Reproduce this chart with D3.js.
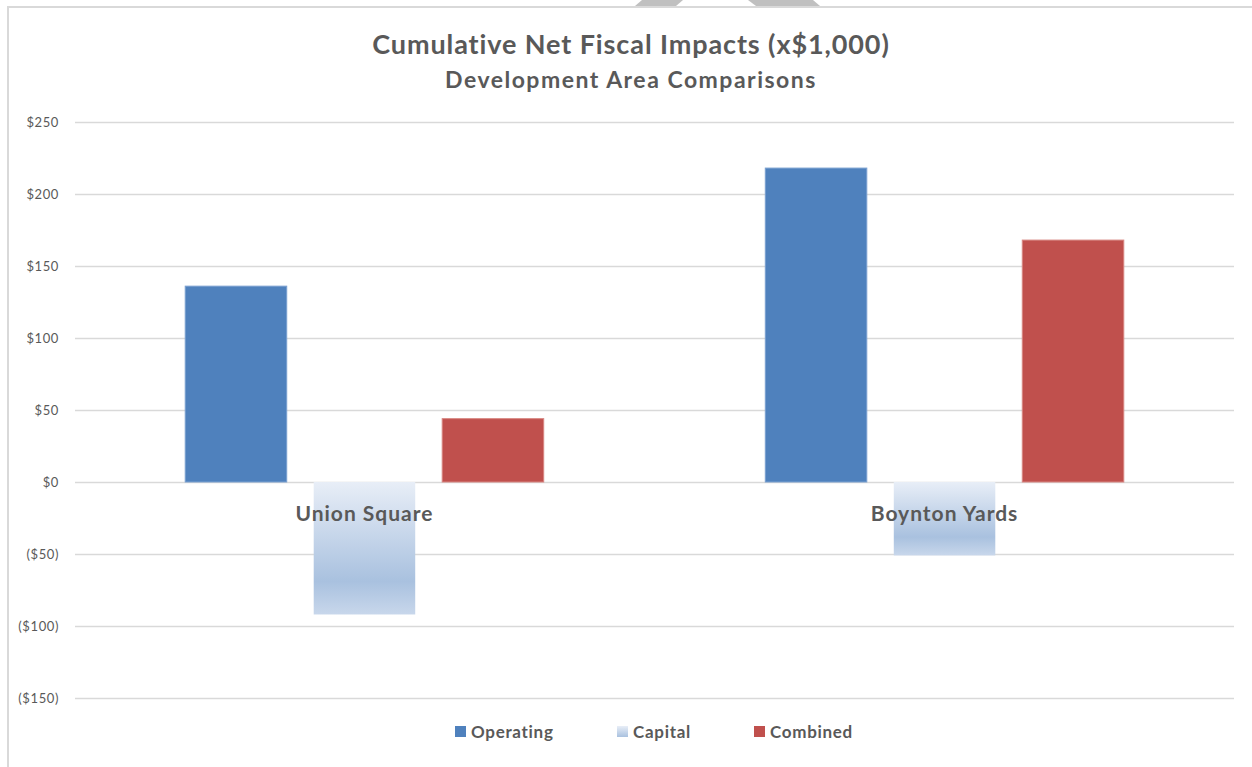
<!DOCTYPE html>
<html>
<head>
<meta charset="utf-8">
<script src="https://cdn.jsdelivr.net/npm/d3@7"></script>
<style>
  body { margin: 0; background: #fff; }
  text { font-family: Lato, "Open Sans", sans-serif; }
</style>
</head>
<body>
<div id="container"></div>
<script>
// chart data
const categories = ["Union Square", "Boynton Yards"];
const seriesNames = ["Operating", "Capital", "Combined"];
const operating = [136, 218];
const capital = [-92, -51];
const combined = [44, 168];
const tickValues = [-150, -100, -50, 0, 50, 100, 150, 200, 250];

const width = 1252;
const height = 767;
const plotLeft = 75, plotRight = 1234, plotTop = 122, plotBottom = 698;
const textColor = "#595959";

const svg = d3.select("#container")
    .append("svg")
    .attr("width", width)
    .attr("height", height);

// gradient for the capital bars
const defs = svg.append("defs");
const grad = defs.append("linearGradient")
    .attr("id", "capital-grad")
    .attr("x1", "0%").attr("y1", "0%")
    .attr("x2", "0%").attr("y2", "100%");
grad.append("stop").attr("offset", "0%").attr("stop-color", "#e8eef7");
grad.append("stop").attr("offset", "75%").attr("stop-color", "#a9c1df");
grad.append("stop").attr("offset", "100%").attr("stop-color", "#c8d7eb");

const legendGrad = defs.append("linearGradient")
    .attr("id", "capital-legend-grad")
    .attr("x1", "0%").attr("y1", "0%")
    .attr("x2", "0%").attr("y2", "100%");
legendGrad.append("stop").attr("offset", "0%").attr("stop-color", "#e8eef7");
legendGrad.append("stop").attr("offset", "100%").attr("stop-color", "#a9c1df");

//chart frame (top and left edge visible)
svg.append("line")
    .attr("x1", 7).attr("x2", width).attr("y1", 7).attr("y2", 7)
    .attr("stroke", "#d9d9d9").attr("stroke-width", 2);
svg.append("line")
    .attr("x1", 8).attr("x2", 8).attr("y1", 7).attr("y2", height)
    .attr("stroke", "#d9d9d9").attr("stroke-width", 2);

// gray shapes cut off at the top edge
svg.append("polygon")
    .attr("points", "642,0 683,0 676,6 635,6")
    .attr("fill", "#c0c0c0");
svg.append("polygon")
    .attr("points", "748,0 813,0 820,6 756,6")
    .attr("fill", "#c0c0c0");

// scales
const y = d3.scaleLinear()
    .domain([-150, 250])
    .range([plotBottom, plotTop]);

const x0 = d3.scaleBand()
    .domain(categories)
    .range([plotLeft, plotRight])
    .paddingInner(0.382)
    .paddingOuter(0.19);

const x1 = d3.scaleBand()
    .domain(seriesNames)
    .range([0, x0.bandwidth()])
    .paddingInner(0.21);

const fills = {
    Operating: "#4f81bd",
    Capital: "url(#capital-grad)",
    Combined: "#c0504d"
};
const strokes = {
    Operating: "#7aa0d0",
    Capital: "none",
    Combined: "#d88682"
};

// gridlines + tick labels via axis
const yAxis = svg.append("g")
    .attr("transform", `translate(${plotLeft},0)`)
    .call(d3.axisLeft(y)
        .tickValues(tickValues)
        .tickSize(-(plotRight - plotLeft))
        .tickPadding(16)
        .tickFormat(d => d < 0 ? `($${-d})` : `$${d}`));
yAxis.select(".domain").remove();
yAxis.selectAll(".tick line")
    .attr("stroke", "#d9d9d9")
    .attr("stroke-width", 1.5);
yAxis.selectAll(".tick text")
    .attr("fill", textColor)
    .style("font-family", "Lato, sans-serif")
    .style("font-size", "13px")
    .style("letter-spacing", "0.6px");

// bars
const values = { Operating: operating, Capital: capital, Combined: combined };
categories.forEach((cat, ci) => {
    seriesNames.forEach(s => {
        const v = values[s][ci];
        svg.append("rect")
            .attr("x", x0(cat) + x1(s))
            .attr("y", y(Math.max(0, v)))
            .attr("width", x1.bandwidth())
            .attr("height", Math.abs(y(v) - y(0)))
            .attr("fill", fills[s])
            .attr("stroke", strokes[s])
            .attr("stroke-width", 1);
    });
});

// category labels, drawn over the bars
svg.append("g").selectAll("text")
    .data(categories)
    .join("text")
    .attr("x", d => x0(d) + x0.bandwidth() / 2)
    .attr("y", y(0) + 39)
    .attr("text-anchor", "middle")
    .attr("fill", textColor)
    .style("font-size", "21px")
    .style("font-weight", "bold")
    .style("letter-spacing", "1px")
    .text(d => d);

// titles
svg.append("text")
    .attr("x", 631)
    .attr("y", 54)
    .attr("text-anchor", "middle")
    .attr("fill", textColor)
    .style("font-size", "27px")
    .style("font-weight", "bold")
    .style("letter-spacing", "0.9px")
    .text("Cumulative Net Fiscal Impacts (x$1,000)");

svg.append("text")
    .attr("x", 631)
    .attr("y", 88)
    .attr("text-anchor", "middle")
    .attr("fill", textColor)
    .style("font-size", "23px")
    .style("font-weight", "bold")
    .style("letter-spacing", "1.5px")
    .text("Development Area Comparisons");

// legend
const legendX = [455, 617, 754];
const legendFill = ["#4f81bd", "url(#capital-legend-grad)", "#c0504d"];
seriesNames.forEach((s, i) => {
    svg.append("rect")
        .attr("x", legendX[i])
        .attr("y", 726)
        .attr("width", 11)
        .attr("height", 11)
        .attr("fill", legendFill[i]);
    svg.append("text")
        .attr("x", legendX[i] + 16)
        .attr("y", 738)
        .attr("fill", textColor)
        .style("font-size", "17px")
        .style("font-weight", "bold")
        .style("letter-spacing", "0.7px")
        .text(s);
});
</script>
</body>
</html>
